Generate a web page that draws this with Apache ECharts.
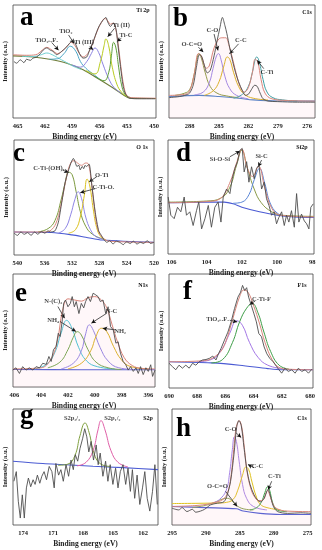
<!DOCTYPE html>
<html><head><meta charset="utf-8">
<script src="https://cdn.jsdelivr.net/npm/echarts@6/dist/echarts.min.js"></script>
<style>html,body{margin:0;padding:0;background:#fff}#c{width:322px;height:550px}</style>
</head><body><div id="c"></div><script>
// ---------- DATA (binding energy eV, relative intensity 0-100) ----------
// Panel a : Ti 2p
const aTicks = [465,462,459,456,453,450];
const aRaw = [[465.4,50],[465.1,48.5],[464.7,51.5],[464.3,49],[464.0,52],[463.6,51],[463.3,53],[462.9,54],[462.5,57],[462.2,60],[461.8,62],[461.4,60],[461.1,59],[460.7,56],[460.3,58],[460.0,60],[459.6,63],[459.3,66],[458.9,68.5],[458.5,63],[458.2,57],[457.8,53],[457.4,54],[457.1,60],[456.7,67.6],[456.3,76.5],[456.0,82],[455.6,86.8],[455.3,89],[455.1,85],[454.8,81],[454.5,84],[454.2,79],[454.0,66],[453.7,45.6],[453.4,28],[453.1,20.6],[452.7,17.6],[451.6,17],[449.9,17]];
const aEnv = [[465.5,56],[464,55.5],[463,56],[462.3,60],[461.8,62.5],[461.2,60],[460.6,57],[460,60],[459.5,64],[459.1,67],[458.7,64],[458.2,57],[457.8,54],[457.3,57],[456.8,65],[456.3,76],[455.9,83],[455.4,88],[455.1,86],[454.8,83],[454.5,84],[454.2,78],[453.9,62],[453.6,42],[453.3,27],[453,20],[452.5,18],[449.8,17.5]];
const aBg = [[465.5,55],[463.3,54],[461.5,52],[459.6,48.5],[457.8,42.6],[456,34],[454.5,26.5],[453.4,20.6],[452.7,17.6],[449.8,17.3]];
const aTiOF = [[464.5,54.5],[463.2,54.5],[462.4,56],[461.8,57.5],[461.2,56],[460.4,52.5],[459.6,49],[458.8,45.5],[458,43]];
const aTiO2 = [[461.5,52],[460.6,52.5],[459.9,57],[459.2,63.5],[458.6,59],[458.1,50],[457.5,44],[456.8,39.5],[456,34.5]];
const aTi3 = [[459,47],[458.1,45],[457.4,50],[456.9,57],[456.5,62],[456.1,58],[455.6,47],[455,35],[454.4,27],[453.6,22]];
const aTi2 = [[457.5,42],[456.5,39],[455.9,50],[455.5,64],[455.3,70],[455.0,64],[454.6,45],[454.1,30],[453.6,23],[453,19]];
const aTiC = [[456.5,37],[455.5,33],[455,40],[454.7,55],[454.45,67],[454.2,62],[453.9,45],[453.6,30],[453.2,21],[452.6,18]];
const aNotes = [['TiO₂₋ₓFₓ',461.8,69,461.25,66.8,460.5,60],['TiO₂',459.7,76.5,459.4,73.5,458.8,66],['Ti (III)',457.7,67,457.1,63,456.7,60.5],['Ti (II)',453.6,82,454.35,79.4,455.1,72],['Ti-C',453.1,73.5,453.6,70.6,454.1,67.6]];

// Panel b : C1s
const bTicks = [288,285,282,279,276];
const bRaw = [[290.1,18],[289.5,18.5],[289,19],[288.5,20],[288,22],[287.6,30],[287.3,45],[287.0,56],[286.8,55],[286.5,47],[286.2,40],[285.9,42],[285.5,55],[285.2,68],[284.9,80],[284.65,89],[284.4,82],[284.2,75],[283.9,62],[283.6,50],[283.3,40],[283,32],[282.6,24],[282.3,20],[282,21],[281.7,25],[281.35,29],[281.1,28],[280.8,22],[280.5,17],[280,15],[279,14.5],[277,14],[275.2,14]];
const bEnv = [[290.1,20],[288.5,21],[288,24],[287.5,40],[287.1,57],[286.8,55],[286.3,44],[286,46],[285.5,62],[285,70],[284.6,71],[284.3,71],[284,65],[283.6,52],[283.2,38],[282.8,27],[282.4,23],[282,27],[281.6,40],[281.3,52],[281.05,50],[280.7,34],[280.3,22],[279.6,17],[278,15.5],[275.2,15]];
const bBg = [[290.1,19],[287,20],[285,19],[283,17.5],[281.5,16],[279,15],[275.2,15]];
const bOCO = [[289.5,20],[288.5,22],[288,25],[287.6,36],[287.25,52],[287.05,57],[286.8,53],[286.4,40],[285.9,28],[285.2,22],[284.2,19.5],[283,18]];
const bCO = [[287.5,20.5],[286.6,23],[286,31],[285.6,44],[285.25,55],[285.05,57],[284.8,52],[284.4,37],[283.9,26],[283.2,20],[282,17]];
const bCC = [[286.5,20],[285.6,24],[285,32],[284.5,46],[284.15,54],[283.9,52],[283.5,40],[283,28],[282.4,21],[281.5,17.5],[280,16]];
const bCTi = [[283.5,17.5],[282.6,21],[282,28],[281.6,40],[281.3,52],[281.15,54],[280.9,50],[280.5,34],[280.1,23],[279.5,18],[278.5,16],[277,15]];
const bNotes = [['O-C=O',287.77,65.6,287.1,62.7,286.6,58.3],['C-O',285.67,77.3,285.5,74.3,285.1,59.8],['C-C',282.77,68.5,283.0,65.6,283.93,56.9],['C-Ti',280.1,40.8,280.43,43.7,281.1,51]];

// Panel c : O 1s
const cTicks = [540,536,532,528,524,520];
const cRaw = [[540.5,19],[540,17],[539.5,20],[539,18],[538.5,19.5],[538,17],[537.5,20],[537,18],[536.5,20.5],[536,19],[535.5,21],[535.2,20],[534.5,21],[534,28.6],[533.5,46],[533,63.5],[532.5,74],[532.1,81],[531.8,84],[531.5,80],[531.3,77],[531,78],[530.8,74],[530.5,77],[530.3,75],[530.1,78],[529.9,77],[529.5,79],[529.1,60.6],[528.6,37],[528.1,21],[527.7,17],[527.3,13],[526.9,11],[526.5,12.5],[526,9.6],[525.5,12],[525,11],[524.5,9],[524,11.5],[523.5,10],[523,12],[522.5,9.5],[522,11],[521.5,10],[521,12.5],[520.5,10],[520,11]];
const cEnv = [[540.5,20],[536,20],[535,22],[534.2,30],[533.5,47],[532.8,68],[532.2,80],[531.7,82],[531.2,80],[530.6,78],[530,80],[529.6,79],[529.2,65],[528.7,40],[528.2,22],[527.5,15],[526.5,12],[520,11]];
const cBg = [[540.5,20],[535,19.5],[532,17.5],[530,15.5],[527.5,13],[520,11]];
const cOH = [[537,20],[535.5,23],[534.5,30],[533.6,48],[533,63],[532.5,72],[532,70],[531.4,55],[530.8,38],[530,25],[529,18],[527.5,14]];
const cOx = [[534,19],[533,23],[532.2,35],[531.6,48],[531.1,55],[530.6,49],[530,33],[529.3,22],[528.5,16],[527.5,14]];
const cOTi = [[532.5,19],[531.5,22],[530.8,33],[530.2,52],[529.8,66],[529.4,60],[528.9,40],[528.4,24],[527.8,16],[527,13]];
const cNotes = [['C-Ti-(OH)ₓ',535.4,75.2,533.4,73.8,532.5,71.7],['O-Ti',527.66,69.4,528.4,68,529.5,63.6],['C-Ti-Oₓ',527.4,59.2,528.6,57.7,530.8,54.2]];

// Panel d : Si2p
const dTicks = [106,104,102,100,98];
const dRaw = [[106.19,50],[106.04,34],[105.85,31],[105.66,41],[105.47,37],[105.28,50],[105.15,34],[104.96,37],[104.77,25],[104.58,38],[104.45,45.6],[104.29,22],[104.10,31],[103.91,42.6],[103.73,23.5],[103.54,41],[103.35,45.6],[103.19,28],[103.06,50],[102.87,57],[102.68,53],[102.55,66],[102.40,75],[102.25,81],[102.11,91],[101.98,92.6],[101.87,72],[101.73,81],[101.60,63],[101.45,76.5],[101.30,66],[101.17,75],[101.03,78],[100.88,57],[100.73,63],[100.60,48.5],[100.46,42.6],[100.31,34],[100.16,37],[100.03,26.5],[99.90,32],[99.74,37],[99.59,25],[99.46,34],[99.33,28],[99.18,38],[99.02,23.5],[98.89,53],[98.76,28],[98.61,35],[98.45,29],[98.32,26.5],[98.19,22],[98.08,41],[97.94,44]];
const dEnv = [[106.2,45],[104,46],[103.2,49],[102.7,62],[102.3,80],[102.0,92],[101.7,76],[101.4,68],[101.05,77],[100.7,58],[100.3,40],[99.8,34],[97.9,32.5]];
const dBg = [[106.2,45],[104,45.5],[103,45.5],[102.5,44],[102,41],[101,37],[100,34],[99,32.5],[97.9,32]];
const dSiOSi = [[106.2,45.5],[104,46.5],[103.2,49],[102.7,58],[102.3,78],[102.0,91],[101.7,76],[101.3,57],[100.9,45],[100.3,37],[99.7,34],[97.9,33]];
const dSiC = [[102.5,44.5],[102,45.5],[101.6,52],[101.3,65],[101.0,75],[100.7,62],[100.4,45],[100.0,36],[99.5,33]];
const dNotes = [['Si-O-Si',103.25,83.2,102.68,85.3,102.11,90.3],['Si-C',100.88,85.3,100.88,82.4,101.07,76.5]];

// Panel e : N1s
const eTicks = [406,404,402,400,398,396];
const eRaw = [[406.12,15],[405.88,17],[405.62,12],[405.38,18],[405.12,15],[404.88,17],[404.62,15],[404.38,18],[404.12,17],[403.88,21],[403.62,20],[403.42,27],[403.25,22.6],[403.08,33],[402.88,36],[402.72,47.6],[402.58,44.7],[402.42,59.4],[402.32,74],[402.18,77],[402.0,71],[401.82,74],[401.68,80],[401.52,71],[401.38,75.6],[401.18,65],[401.0,74],[400.82,70],[400.68,75.6],[400.5,80],[400.32,75.6],[400.12,83],[399.92,81.5],[399.75,80],[399.58,75.6],[399.38,77],[399.18,65],[399.0,71],[398.82,53.5],[398.62,50.6],[398.42,38.8],[398.25,40],[398.08,30],[397.88,22.6],[397.68,19.7],[397.5,15],[397.32,18],[397.12,13.8],[396.92,17],[396.75,12],[396.58,18],[396.38,11],[396.18,17],[396.0,13.8],[395.82,19.7],[395.68,9.4],[395.5,15]];
const eEnv = [[406.1,16],[404,17],[403.3,24],[402.8,40],[402.4,68],[402,78],[401.5,77],[401,76],[400.5,79],[400,80],[399.5,77],[399.1,70],[398.7,55],[398.3,40],[397.8,26],[397.2,19],[396.5,16.5],[395.5,16]];
const eBg = [[406.1,15.5],[401,15.3],[395.5,15.2]];
const eNC3 = [[404.5,16],[403.6,20],[403,30],[402.5,48],[402.1,59],[401.7,52],[401.2,35],[400.6,23],[399.8,18],[398.5,16]];
const eNH4 = [[403.5,17],[402.6,22],[402,33],[401.6,44],[401.3,49],[401,46],[400.5,33],[399.9,22],[399,17],[398,15.5]];
const eNC = [[402.5,16],[401.6,21],[401,32],[400.7,46],[400.4,55],[400.1,50],[399.6,35],[399,23],[398.2,17],[397,15.5]];
const eNH2 = [[402,16],[401,21],[400.3,32],[399.9,45],[399.5,52],[399.1,49],[398.6,36],[398,24],[397.3,18],[396,16]];
const eNotes = [['N-(C)₃',403.1,75.6,402.75,71.2,402.25,60.9],['NH₄',403.1,59.4,402.6,58,401.4,49.1],['N-C',398.75,66.8,399.1,65.3,400.25,56.5],['NH₂',398.1,49.1,398.5,50.6,399.4,52]];

// Panel f : F1s
const fTicks = [690,688,686,684,682,680];
const fRaw = [[690,21.7],[689.76,18.8],[689.52,16],[689.29,20],[689.05,17.4],[688.81,20],[688.57,17.4],[688.33,21.7],[688.10,20],[687.86,23],[687.62,24.6],[687.38,25],[687.14,26],[686.90,28],[686.67,24.6],[686.50,30],[686.31,34.8],[686.07,42],[685.83,49],[685.60,58],[685.36,69.6],[685.12,79.7],[684.93,84],[684.79,90],[684.64,85.5],[684.50,88],[684.36,79.7],[684.17,72.5],[683.98,65],[683.81,58],[683.64,47.8],[683.45,45],[683.26,36],[683.07,30],[682.86,26],[682.62,23],[682.38,18.8],[682.21,16],[682.02,13],[681.79,17.4],[681.55,14.5],[681.31,16],[681.07,13],[680.83,17.4],[680.60,14.5],[680.36,16],[680.12,13],[679.88,16.5]];
const fEnv = [[690,23],[687.5,24],[686.5,30],[686,40],[685.5,60],[685,80],[684.7,86],[684.4,84],[684,72],[683.6,57],[683.2,40],[682.7,25],[682.2,18],[681.5,16.5],[679.8,16]];
const fBg = [[690,23],[687,22],[685,20],[683,17],[682,16],[679.8,16]];
const fTiOF = [[688,23],[687,25],[686.3,33],[685.7,48],[685.2,59],[684.8,55],[684.3,40],[683.7,27],[683,20],[682,17]];
const fCTiF = [[687,22],[686.2,25],[685.5,40],[685,58],[684.5,70],[684.1,74],[683.7,66],[683.3,50],[682.8,32],[682.2,20],[681.5,16.5]];
const fNotes = [['C-Ti-F',683.45,77.4,683.9,76.2,684.3,73.3],['TiO₂₋ₓFₓ',686.55,60,685.7,59.4,685.17,58]];

// Panel g : S2p
const gTicks = [174,171,168,165,162];
const gRaw = [[174.91,37.7],[174.67,46],[174.47,20.5],[174.27,6],[174.07,26],[173.87,6],[173.66,32],[173.46,40.5],[173.23,33],[172.99,39],[172.79,35],[172.56,43],[172.32,36],[172.12,42],[171.89,46],[171.65,39],[171.38,50.5],[171.11,46],[170.88,32],[170.71,53],[170.44,43],[170.21,47.7],[169.97,37.7],[169.70,52],[169.44,42],[169.20,56],[168.97,47.7],[168.77,60.6],[168.53,55],[168.30,66],[168.03,74.8],[167.83,83],[167.62,76],[167.42,63],[167.19,72],[166.95,56],[166.68,69],[166.48,52],[166.28,62],[166.01,42],[165.74,55],[165.51,37.7],[165.28,52],[165.01,35],[164.74,49],[164.50,32],[164.27,46],[164.0,52],[163.73,35],[163.50,49],[163.26,29],[163.06,47.7],[162.83,23],[162.59,43],[162.32,17.7],[162.05,32],[161.82,46],[161.58,23],[161.32,12],[161.05,29],[160.81,52],[160.57,17.7]];
const gBg = [[175,55],[172,53],[169.7,52],[167,50.6],[164,49.5],[160.5,47.7]];
const gP32 = [[170.5,51.5],[169.5,52.5],[168.8,60],[168.3,77],[167.8,88],[167.4,80],[166.9,62],[166.3,53],[165.3,50.5]];
const gP12 = [[168.6,51],[167.7,54],[167,64],[166.5,82],[166.2,90],[165.8,82],[165.2,64],[164.5,54],[163.5,50]];
const gNotes = [['S2p₃/₂',169.1,92],['S2p₁/₂',165.07,92]];

// Panel h : C1s
const hTicks = [295,290,285,280,275];
const hRaw = [[295,14.5],[294,13],[293.5,15],[292.8,11.6],[292,13.5],[291.5,11],[290.8,12],[290.2,13.5],[289.3,17.4],[288.3,18.8],[287.35,20],[286.85,26],[286.36,37.7],[285.86,61],[285.47,84],[285.12,90],[284.78,85.5],[284.38,66.7],[283.99,49],[283.49,35],[282.9,26],[282.41,21.7],[281.91,20],[281.42,23],[281.02,29],[280.83,30.4],[280.53,26],[280.04,16],[279.44,11.6],[277.96,10],[276,10.5],[274.51,10]];
const hEnv = [[295,16],[291,17],[289,19],[287.5,22],[286.8,28],[286.3,42],[285.9,65],[285.5,85],[285.1,90],[284.7,84],[284.3,65],[283.9,45],[283.4,32],[282.9,25],[282.2,21],[281.5,22],[281.1,28],[280.9,30],[280.6,26],[280.1,18],[279.5,14],[278,12],[274.5,11.5]];
const hBg = [[295,16],[290,15],[285.5,14],[284.5,12],[282,10],[279,9],[274.5,9]];
const hCO = [[289,19],[288,22],[287,30],[286.5,45],[286.1,65],[285.8,76],[285.5,72],[285.1,55],[284.6,35],[284,23],[283,16],[281,13]];
const hCC = [[295,18.5],[288,19],[287,19.5],[286,22],[285.3,30],[284.6,43],[284.1,50],[283.7,48],[283.2,37],[282.6,25],[282,18],[281,15],[279,13]];
const hOCO = [[292,15],[290,17],[288.5,20],[287.5,22.5],[286.8,23],[286.2,21],[285.5,17],[284.5,14],[283,13]];
const hCTi = [[283.5,13],[282.5,15],[281.8,20],[281.3,28],[280.9,33],[280.6,30],[280.2,20],[279.7,14],[279,12],[278,11.5]];
const hNotes = [['C-O',286.36,82.6,285.6,79.7,284.8,75.4],['C-C',282.4,50.7,282.9,49.3,283.8,52.2],['C-Ti',279.9,42,280.3,37.7,280.83,30.4],['O-C=O',288.3,33.3,287.1,29,285.4,16]];

// ---------- LAYOUT / STYLE ----------
const FONT = '"Liberation Serif","Times New Roman",serif';
const grids = [
  {left:13, top:5, width:143, height:113},
  {left:169, top:5, width:146, height:113},
  {left:14, top:140, width:140, height:115},
  {left:168, top:140, width:146, height:114},
  {left:13, top:274, width:142, height:113},
  {left:169, top:274, width:144, height:114},
  {left:13, top:409, width:145, height:116},
  {left:172, top:409, width:139, height:116}
];
const RAW = '#4d4d4d', ENV = '#d9857a', BLUE = '#4b5bd3';
const panels = [
  {min:449.8, max:465.5, ticks:aTicks, raw:aRaw, rawSmooth:0.3, env:aEnv, bg:aBg, bgColor:'#6e7d3a', comps:[[aTiOF,'#6fd0d0'],[aTiO2,'#4aa6c8'],[aTi3,'#8c84e0'],[aTi2,'#b9cc1e'],[aTiC,'#5e9e3a']], notes:aNotes},
  {min:275.2, max:290.1, ticks:bTicks, raw:bRaw, rawSmooth:0.3, env:bEnv, envArea:true, bg:bBg, bgColor:'#4a7fc8', comps:[[bOCO,'#8a9a40'],[bCO,'#9c86e6'],[bCC,'#d8b21e'],[bCTi,'#3fa0a6']], notes:bNotes},
  {min:520, max:540.5, ticks:cTicks, raw:cRaw, rawSmooth:0.2, env:cEnv, bg:cBg, bgColor:BLUE, comps:[[cOH,'#7c9a3e'],[cOx,'#8f86e6'],[cOTi,'#dcc21e']], notes:cNotes},
  {min:97.9, max:106.2, ticks:dTicks, raw:dRaw, rawSmooth:0, env:dEnv, bg:dBg, bgColor:BLUE, comps:[[dSiOSi,'#8a9a48'],[dSiC,'#5a86d6']], notes:dNotes},
  {min:395.5, max:406.1, ticks:eTicks, raw:eRaw, rawSmooth:0, env:eEnv, envArea:true, bg:eBg, bgColor:BLUE, comps:[[eNC3,'#3ec4d6'],[eNH4,'#6fa64a'],[eNC,'#8f84e6'],[eNH2,'#d9b21e']], notes:eNotes},
  {min:679.8, max:690, ticks:fTicks, raw:fRaw, rawSmooth:0, env:fEnv, bg:fBg, bgColor:BLUE, comps:[[fTiOF,'#a477e6'],[fCTiF,'#3e9e48']], notes:fNotes},
  {min:160.5, max:175, ticks:gTicks, raw:gRaw, rawSmooth:0, env:null, bg:gBg, bgColor:BLUE, comps:[[gP32,'#7fa03e'],[gP12,'#e060a8']], notes:gNotes},
  {min:274.5, max:295, ticks:hTicks, raw:hRaw, rawSmooth:0.3, env:hEnv, envArea:true, bg:hBg, bgColor:BLUE, comps:[[hOCO,'#8aa050'],[hCO,'#a886e6'],[hCC,'#e0c21e'],[hCTi,'#3ea048']], notes:hNotes}
];
const letters = [['a',20,26],['b',173,27],['c',13,162],['d',176,162],['e',15,302],['f',183,300],['g',20,424],['h',176,437]];
const corners = [['Ti 2p',143,10],['C1s',307,12],['O 1s',142,147],['Si2p',302,147],['N1s',143,285],['F1s',302,285],['S2p',148,418],['C1s',302,418]];

const option = {
  animation:false, backgroundColor:'#fff',
  grid: grids.map(g => Object.assign({show:true, borderColor:'#444', borderWidth:0.8, backgroundColor:'#fff'}, g)),
  xAxis: panels.map((p,i) => ({
    type:'value', gridIndex:i, inverse:true, min:p.min, max:p.max,
    axisLine:{show:false}, axisTick:{show:false}, splitLine:{show:false},
    axisLabel:{customValues:p.ticks, fontFamily:FONT, fontWeight:'bold', fontSize:6.5, color:'#222', margin:5},
    name:'Binding energy (eV)', nameLocation:'middle', nameGap:15,
    nameTextStyle:{fontFamily:FONT, fontWeight:'bold', fontSize:7.5, color:'#222'}
  })),
  yAxis: panels.map((p,i) => ({
    type:'value', gridIndex:i, min:0, max:100,
    axisLine:{show:false}, axisTick:{show:false}, splitLine:{show:false}, axisLabel:{show:false},
    name:'Intensity (a.u.)', nameLocation:'middle', nameGap:4, nameRotate:90,
    nameTextStyle:{fontFamily:FONT, fontWeight:'bold', fontSize:6.5, color:'#222'}
  })),
  series: [],
  graphic: []
};

panels.forEach((p,i) => {
  const base = {type:'line', xAxisIndex:i, yAxisIndex:i, showSymbol:false, silent:true};
  option.series.push(Object.assign({}, base, {data:p.bg, smooth:0.3, lineStyle:{color:p.bgColor, width:1.1}, z:2}));
  p.comps.forEach(c => option.series.push(Object.assign({}, base, {data:c[0], smooth:0.45, lineStyle:{color:c[1], width:1}, z:3})));
  if (p.env) option.series.push(Object.assign({}, base, {data:p.env, smooth:0.4, lineStyle:{color:ENV, width:1}, z:4,
      areaStyle: p.envArea ? {color:'rgba(255,175,195,0.14)', origin:'start'} : undefined}));
  option.series.push(Object.assign({}, base, {data:p.raw, smooth:p.rawSmooth, lineStyle:{color:RAW, width:0.9}, z:5}));
  const arrows = p.notes.filter(n => n.length > 3).map(n => [{coord:[n[3],n[4]]},{coord:[n[5],n[6]]}]);
  option.series.push({
    type:'scatter', xAxisIndex:i, yAxisIndex:i, silent:true, symbolSize:0, z:10,
    data: p.notes.map(n => ({value:[n[1],n[2]], name:n[0]})),
    label:{show:true, position:'inside', formatter:d => d.name, fontFamily:FONT, fontWeight:'bold', fontSize:6.5, color:'#111'},
    markLine:{silent:true, symbol:['none','arrow'], symbolSize:[3.5,4.5], animation:false,
      lineStyle:{color:'#111', width:0.7, type:'solid'}, label:{show:false}, data:arrows}
  });
});

letters.forEach(l => option.graphic.push({type:'text', x:l[1], y:l[2]+6, silent:true, z:100,
  style:{text:l[0], font:'bold 27px ' + FONT, fill:'#000', verticalAlign:'bottom'}}));
corners.forEach(c => option.graphic.push({type:'text', x:c[1], y:c[2], silent:true, z:100,
  style:{text:c[0], font:'bold 6px ' + FONT, fill:'#111', align:'center', verticalAlign:'middle'}}));

const chart = echarts.init(document.getElementById('c'));
chart.setOption(option);
</script></body></html>
